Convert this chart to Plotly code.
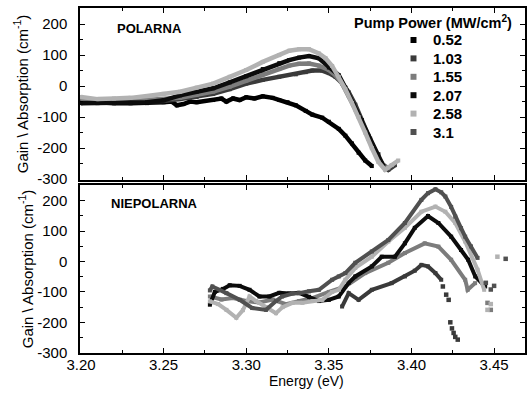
import plotly.graph_objects as go

# ---------------- data ----------------
powers = ["0.52", "1.03", "1.55", "2.07", "2.58", "3.1"]
colors = ["#000000", "#3a3a3a", "#7c7c7c", "#0c0c0c", "#b2b2b2", "#505050"]

# Top panel: POLARNA
top_E = {
    "0.52": [3.200, 3.205, 3.210, 3.220, 3.230, 3.240, 3.250, 3.255, 3.258, 3.262, 3.266, 3.270, 3.275,
             3.280, 3.285, 3.288, 3.292, 3.296, 3.300, 3.305, 3.310, 3.316, 3.320, 3.325, 3.330, 3.336,
             3.340, 3.346, 3.350, 3.356, 3.360, 3.364, 3.368, 3.372, 3.376],
    "1.03": [3.200, 3.210, 3.220, 3.230, 3.240, 3.250, 3.260, 3.270, 3.280, 3.290, 3.300, 3.310, 3.320,
             3.330, 3.336, 3.340, 3.346, 3.350, 3.354, 3.358, 3.362, 3.366, 3.370, 3.374, 3.378, 3.382,
             3.386, 3.390],
    "1.55": [3.200, 3.210, 3.220, 3.230, 3.240, 3.250, 3.260, 3.270, 3.280, 3.290, 3.300, 3.310, 3.320,
             3.326, 3.332, 3.338, 3.344, 3.350, 3.354, 3.358, 3.362, 3.366, 3.370, 3.374, 3.378, 3.382,
             3.386],
    "2.07": [3.200, 3.210, 3.220, 3.230, 3.240, 3.250, 3.260, 3.270, 3.280, 3.290, 3.300, 3.310, 3.320,
             3.326, 3.332, 3.338, 3.344, 3.350, 3.356, 3.360, 3.365, 3.370, 3.375, 3.380, 3.383],
    "2.58": [3.200, 3.210, 3.220, 3.230, 3.240, 3.250, 3.260, 3.270, 3.280, 3.290, 3.300, 3.310, 3.320,
             3.326, 3.332, 3.338, 3.344, 3.348, 3.352, 3.356, 3.360, 3.364, 3.368, 3.372, 3.376, 3.380,
             3.384, 3.388, 3.392],
}
top_G = {
    "0.52": [-48, -50, -52, -55, -55, -55, -52, -50, -62, -58, -50, -52, -48,
             -45, -40, -50, -40, -45, -36, -40, -33, -38, -45, -52, -62, -80,
             -92, -102, -115, -138, -160, -185, -215, -240, -258],
    "1.03": [-45, -48, -50, -50, -50, -48, -42, -35, -25, -10, 8, 20, 30,
             38, 45, 50, 50, 42, 30, 10, -20, -60, -110, -160, -210, -250,
             -270, -255],
    "1.55": [-40, -45, -48, -48, -45, -42, -38, -28, -18, -2, 18, 38, 55,
             66, 72, 73, 66, 52, 35, 8, -30, -75, -120, -170, -215, -250,
             -265],
    "2.07": [-55, -55, -55, -55, -52, -46, -30, -18, -7, 12, 32, 55, 74,
             84, 92, 97, 90, 60, 35, -5, -60, -110, -170, -220, -258],
    "2.58": [-35, -42, -40, -38, -32, -25, -18, -5, 8, 30, 52, 78, 100,
             114, 119, 119, 105, 90, 65, 30, -10, -55, -100, -150, -200, -245,
             -270, -255, -240],
}

# Bottom panel: NIEPOLARNA
bot_E = {
    "1.03": [3.358, 3.362, 3.368, 3.376, 3.388, 3.396, 3.402, 3.406, 3.410, 3.4145, 3.418],
    "1.55": [3.278, 3.285, 3.292, 3.300, 3.308, 3.316, 3.324, 3.332, 3.340, 3.350, 3.360, 3.372,
             3.386, 3.396, 3.408, 3.4163, 3.424, 3.4325, 3.434, 3.4385],
    "2.07": [3.278, 3.281, 3.286, 3.290, 3.296, 3.302, 3.308, 3.314, 3.320, 3.326, 3.332, 3.338,
             3.344, 3.350, 3.356, 3.362, 3.366, 3.376, 3.382, 3.390, 3.396, 3.402, 3.410, 3.4163,
             3.424, 3.430, 3.4343, 3.4386, 3.4446],
    "2.58": [3.278, 3.283, 3.288, 3.294, 3.298, 3.302, 3.306, 3.312, 3.318, 3.322, 3.328, 3.334,
             3.340, 3.346, 3.352, 3.356, 3.360, 3.366, 3.376, 3.386, 3.396, 3.406, 3.4145, 3.4205,
             3.4265, 3.4325, 3.440, 3.444],
    "3.1": [3.278, 3.2795, 3.288, 3.296, 3.3036, 3.312, 3.318, 3.3217, 3.328, 3.332, 3.338, 3.344,
            3.352, 3.356, 3.360, 3.366, 3.376, 3.386, 3.396, 3.406, 3.410, 3.4145, 3.418, 3.4205,
            3.424, 3.4265, 3.430, 3.4325, 3.436, 3.440],
}
bot_G = {
    "1.03": [-148, -104, -126, -93, -71, -49, -30, -11, -16, -38, -60],
    "1.55": [-115, -125, -120, -130, -135, -125, -140, -130, -120, -100, -82, -38,
             -4, 28, 60, 49, 6, -60, -93, -71],
    "2.07": [-142, -100, -90, -78, -80, -93, -115, -115, -103, -105, -103, -116,
             -130, -126, -115, -70, -49, -16, 16, 16, 60, 111, 150, 127,
             82, 38, 6, -49, -82],
    "2.58": [-131, -140, -159, -185, -160, -115, -130, -150, -170, -150, -136, -136,
             -130, -126, -100, -93, -60, -21, 16, 66, 111, 164, 181, 164,
             127, 66, -27, -93],
    "3.1": [-95, -82, -104, -126, -153, -159, -130, -115, -105, -104, -98, -93,
            -60, -49, -38, -4, 33, 71, 127, 203, 225, 238, 228, 214,
            180, 148, 110, 82, 50, 12],
}

# Scattered single points at the ends of the bottom curves
tail_E = {
    "1.03": [3.419, 3.421, 3.4225, 3.4235, 3.4245, 3.4255, 3.4265, 3.428],
    "1.55": [3.446, 3.448],
    "2.58": [3.446, 3.448, 3.452],
    "3.1": [3.445, 3.448, 3.450, 3.457],
}
tail_G = {
    "1.03": [-82, -109, -126, -200, -220, -235, -248, -257],
    "1.55": [-136, -159],
    "2.58": [-159, -140, 16],
    "3.1": [-70, -92, -80, 9],
}

x_tickvals = [3.20, 3.25, 3.30, 3.35, 3.40, 3.45]
x_ticktext = ["3.20", "3.25", "3.30", "3.35", "3.40", "3.45"]
y_tickvals = [-300, -200, -100, 0, 100, 200]
y_ticktext = ["-300", "-200", "-100", "0", "100", "200"]

# ---------------- figure ----------------
W, H = 528, 395
L, R, T, B = 80, 1, 8, 42
pw, ph = W - L - R, H - T - B

fig = go.Figure()
cmap = dict(zip(powers, colors))

for p in powers:
    if p in top_E:
        fig.add_trace(go.Scatter(x=top_E[p], y=top_G[p], mode="lines+markers",
                                 line=dict(color=cmap[p], width=4.5),
                                 marker=dict(symbol="square", size=4, color=cmap[p]),
                                 xaxis="x", yaxis="y", showlegend=False))
for p in powers:
    if p in bot_E:
        fig.add_trace(go.Scatter(x=bot_E[p], y=bot_G[p], mode="lines+markers",
                                 line=dict(color=cmap[p], width=4),
                                 marker=dict(symbol="square", size=4, color=cmap[p]),
                                 xaxis="x2", yaxis="y2", showlegend=False))
    if p in tail_E:
        fig.add_trace(go.Scatter(x=tail_E[p], y=tail_G[p], mode="markers",
                                 marker=dict(symbol="square", size=4.5, color=cmap[p]),
                                 xaxis="x2", yaxis="y2", showlegend=False))

font_family = "Liberation Sans, Arial, sans-serif"
xrange_ = [3.1994, 3.4687]

axis_common = dict(showline=True, mirror="ticks", linecolor="black", linewidth=1.5,
                   ticks="inside", ticklen=5, tickwidth=1.2, tickcolor="black",
                   showgrid=False, zeroline=False,
                   tickfont=dict(family=font_family, size=15, color="black"))

fig.update_layout(
    width=W, height=H,
    margin=dict(l=L, r=R, t=T, b=B),
    paper_bgcolor="white", plot_bgcolor="white",
    showlegend=False,
    xaxis=dict(domain=[0, 1], range=xrange_, anchor="y", showticklabels=False,
               tickvals=x_tickvals,
               minor=dict(ticks="inside", ticklen=3, dtick=0.025, tick0=3.2, tickcolor="black"),
               **axis_common),
    yaxis=dict(domain=[(H - B - 180) / ph, 1.0], range=[-303, 252], anchor="x",
               tickvals=y_tickvals, ticktext=y_ticktext, ticklabelstandoff=8,
               minor=dict(ticks="inside", ticklen=3, dtick=50, tick0=0, tickcolor="black"),
               **axis_common),
    xaxis2=dict(domain=[0, 1], range=xrange_, anchor="y2",
                tickvals=x_tickvals, ticktext=x_ticktext, ticklabelstandoff=-3,
                minor=dict(ticks="inside", ticklen=3, dtick=0.025, tick0=3.2, tickcolor="black"),
                **axis_common),
    yaxis2=dict(domain=[0, (H - B - 185) / ph], range=[-301, 252], anchor="x2",
                tickvals=y_tickvals, ticktext=y_ticktext, ticklabelstandoff=8,
                minor=dict(ticks="inside", ticklen=3, dtick=50, tick0=0, tickcolor="black"),
                **axis_common),
)

def px_x(x):
    return (x - L) / pw

def px_y(y):
    return (H - B - y) / ph

annotations = [
    dict(text="POLARNA", x=px_x(150), y=px_y(29), font=dict(size=13, weight="bold")),
    dict(text="NIEPOLARNA", x=px_x(155), y=px_y(203), font=dict(size=13, weight="bold")),
    dict(text="Pump Power (MW/cm<sup>2</sup>)", x=px_x(435), y=px_y(22), font=dict(size=14.5, weight="bold")),
    dict(text="Gain \\ Absorption (cm<sup>-1</sup>)", x=px_x(20), y=px_y(94), textangle=-90, font=dict(size=15)),
    dict(text="Gain \\ Absorption (cm<sup>-1</sup>)", x=px_x(25), y=px_y(269), textangle=-90, font=dict(size=15)),
    dict(text="Energy (eV)", x=px_x(308), y=px_y(381), font=dict(size=14)),
]

# Manual legend (compact row spacing as in the reference)
leg_marker_x, leg_text_x, leg_y0, leg_dy = 415, 433, 40, 18.4
for i, p in enumerate(powers):
    yy = leg_y0 + i * leg_dy
    fig.add_shape(type="rect", xref="paper", yref="paper",
                  x0=px_x(leg_marker_x - 3), x1=px_x(leg_marker_x + 3),
                  y0=px_y(yy + 3), y1=px_y(yy - 3),
                  fillcolor=cmap[p], line=dict(width=0))
    annotations.append(dict(text=p, x=px_x(leg_text_x), y=px_y(yy), xanchor="left",
                            font=dict(size=15, weight="bold")))

for a in annotations:
    a["font"].update(family=font_family, color="black")
    a.setdefault("xanchor", "center")
    fig.add_annotation(xref="paper", yref="paper", showarrow=False,
                       yanchor="middle", **a)

fig.write_html("out.html")
